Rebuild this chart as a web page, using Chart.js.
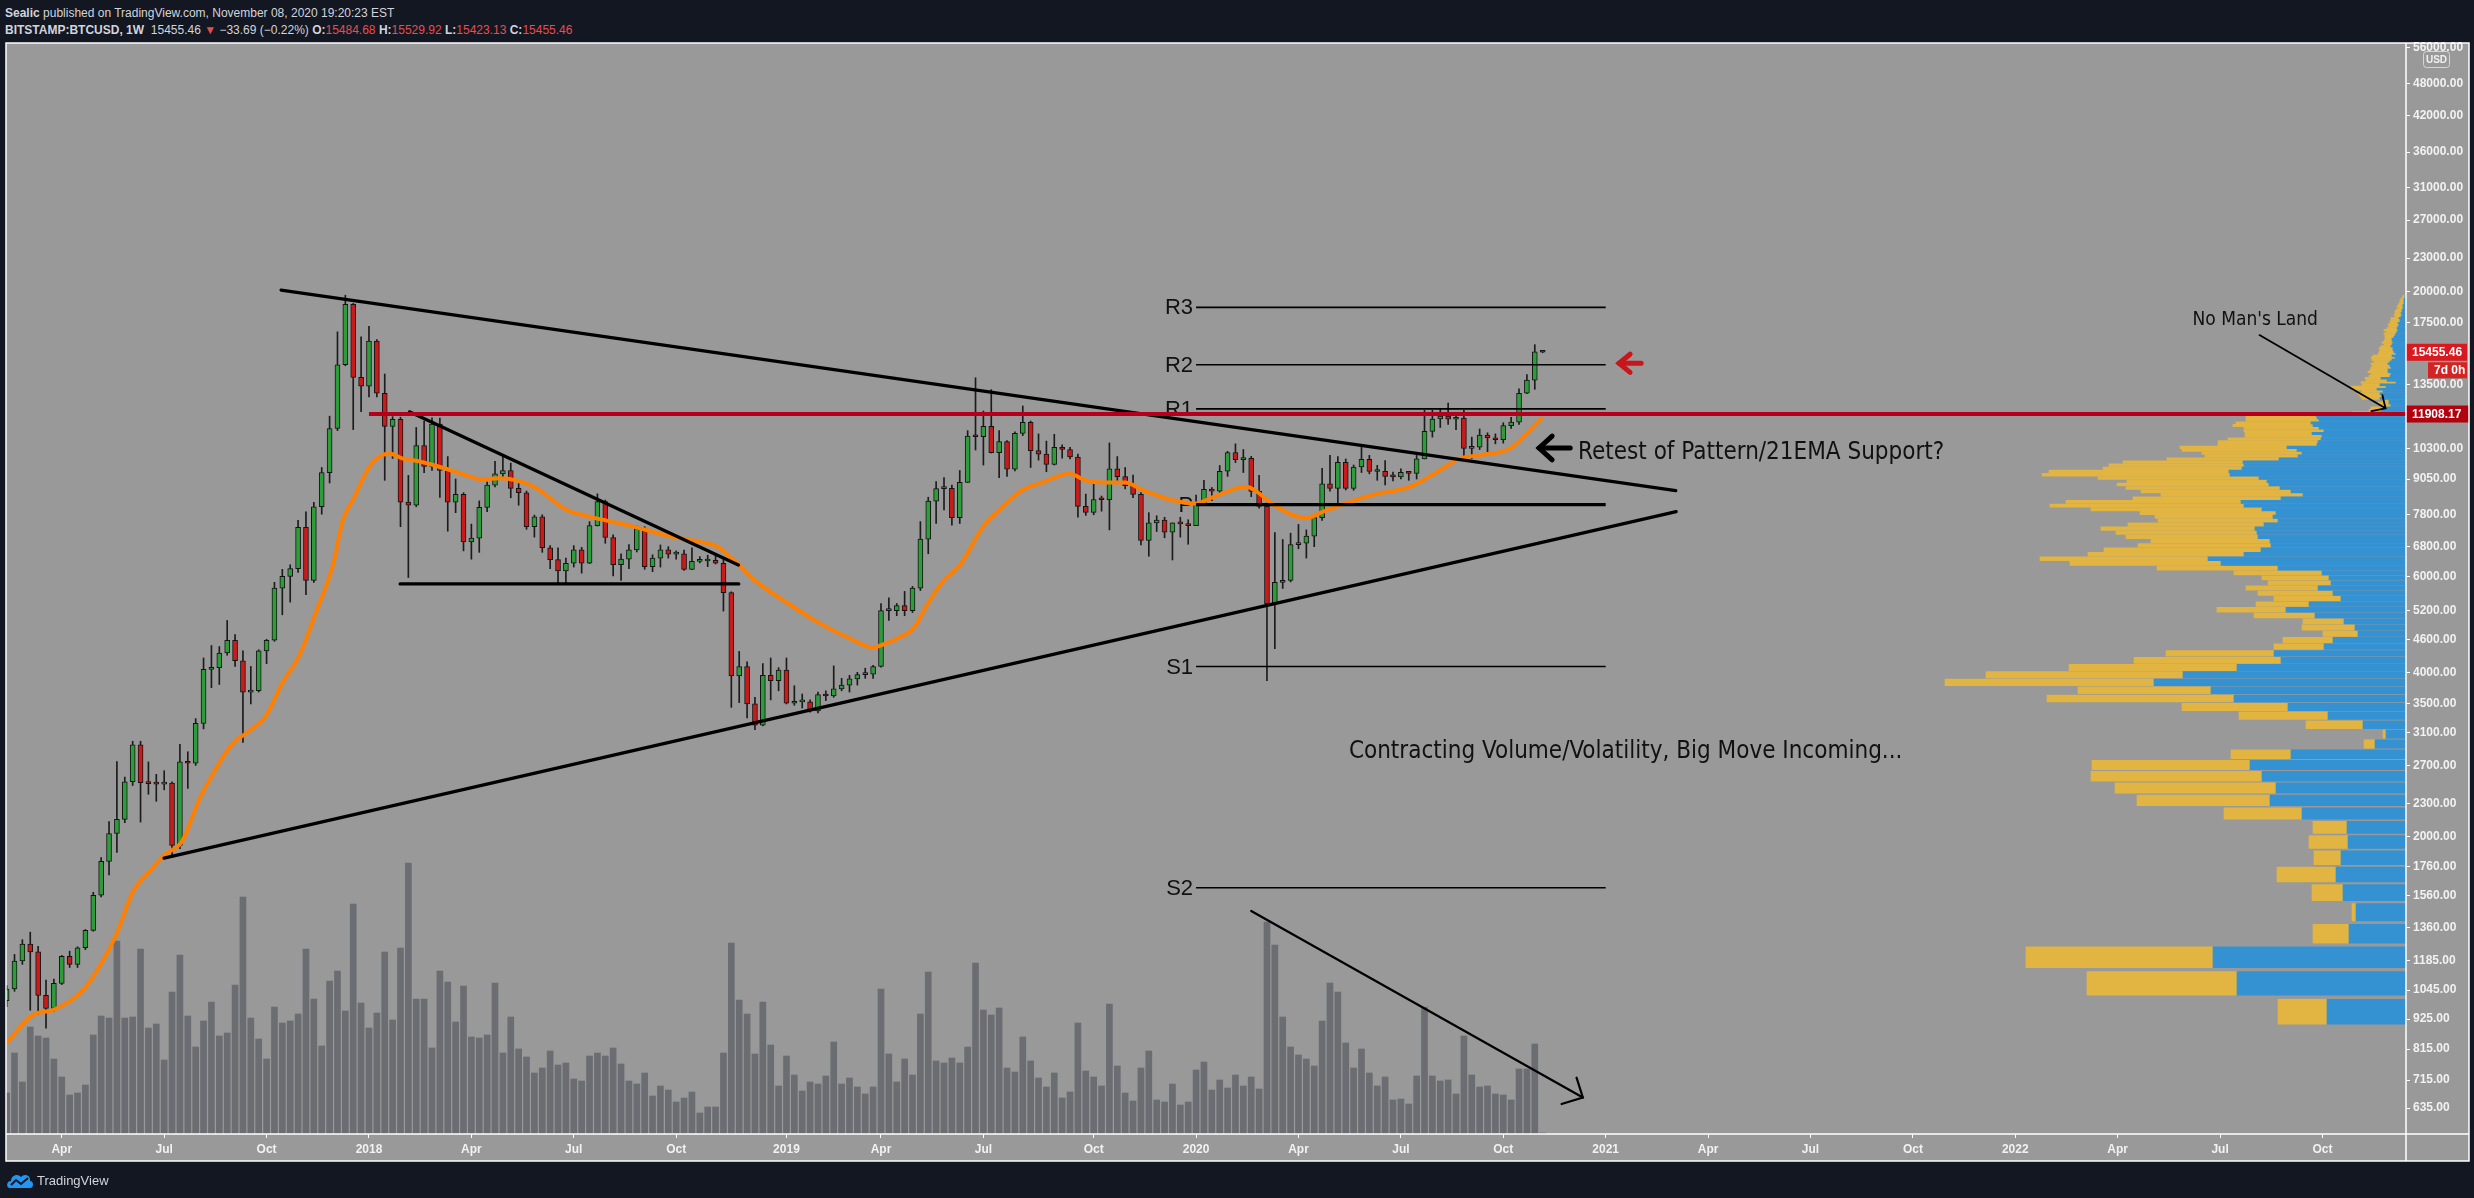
<!DOCTYPE html>
<html>
<head>
<meta charset="utf-8">
<script src="https://cdn.jsdelivr.net/npm/chart.js"></script>
<style>
  body { margin: 0; background: #131722; width: 2474px; height: 1198px; overflow: hidden; position: relative;
         font-family: "Liberation Sans", Arial, sans-serif; color: #d1d4dc; }
  .hdr { position: absolute; left: 5px; font-size: 12px; line-height: 14px; white-space: nowrap; }
  #h1 { top: 6px; }
  #h2 { top: 23px; }
  .red { color: #e84d4d; }
  #frame { position: absolute; left: 6px; top: 43px; width: 2463px; height: 1118px; background: #999999; }
  canvas { position: absolute; left: 0; top: 0; }
  #logo { position: absolute; left: 6px; top: 1170px; height: 20px; display: flex; align-items: center; gap: 3px; font-size: 13px; color: #d1d4dc; }
</style>
</head>
<body>
<div class="hdr" id="h1"><b>Sealic</b> published on TradingView.com, November 08, 2020 19:20:23 EST</div>
<div class="hdr" id="h2"><b>BITSTAMP:BTCUSD, 1W</b>&nbsp; 15455.46 <span class="red">&#9660;</span> &minus;33.69 (&minus;0.22%) <b>O:</b><span class="red">15484.68</span> <b>H:</b><span class="red">15529.92</span> <b>L:</b><span class="red">15423.13</span> <b>C:</b><span class="red">15455.46</span></div>
<div id="frame"></div>
<canvas id="vp"></canvas>
<canvas id="main" width="2474" height="1198"></canvas>
<div id="logo">
  <svg width="28" height="18" viewBox="0 0 28 18"><path d="M4 17 C0 17 0 10 5 10 C5 4 12 2 15 6 C18 2 25 4 24 10 C28 10 28 17 24 17 Z" fill="#2196f3"/><polyline points="5,14 10,9 15,13 22,7" fill="none" stroke="#131722" stroke-width="2"/></svg>
  <span>TradingView</span>
</div>
<script>
// weekly candles, week index counted from Mon 2 Jan 2017 (first candle = week 6, 13 Feb 2017)
const firstBar = 6;
const opens = [
  1000,1050,1182,1270,1228,1022,967,1075,1205,1165,
  1250,1345,1560,1800,2025,2150,2520,2946,2509,2500,
  2495,2505,1925,2740,2725,3225,4050,4080,4340,4580,
  4200,3680,3700,4380,4580,5710,6000,6200,7380,5900,
  8050,9300,11200,14660,18930,13900,13400,16200,13000,11300,
  11650,8210,8100,10420,9540,11410,9380,8210,8480,6940,
  7050,8030,8820,9250,9380,8700,8540,7400,7710,6770,
  6440,6140,6340,6710,6340,7430,8230,7070,6300,6450,
  6710,7340,6250,6480,6710,6590,6600,6180,6390,6400,
  6420,6340,5600,3940,4100,3500,3200,3950,3860,4040,
  3510,3530,3530,3400,3640,3620,3730,3790,3890,3960,
  3970,4100,5190,5190,5300,5190,5710,7020,8240,8690,
  8700,7690,8920,10850,10820,11300,10110,10600,9430,10975,
  11500,10200,10050,9620,10350,10250,9930,8060,7860,8300,
  8290,9450,9140,8800,8480,6980,7520,7610,7230,7520,
  7490,7430,8190,8660,8600,9350,10120,9820,9880,8590,
  8060,5340,5850,5900,6860,6900,7110,7690,8870,8700,
  9710,8700,9520,9830,9340,9350,9150,9130,9310,9270,
  9850,11070,11660,11810,11650,11700,10300,10350,10890,10770,
  10680,11340,11510,13000,13740,15484.68
];
const highs = [
  1065,1215,1293,1335,1258,1090,1095,1210,1232,1255,
  1350,1580,1830,2130,2745,2570,2990,2990,2740,2600,
  2640,2520,2950,2860,3290,4250,4480,4460,4980,4690,
  4380,4100,4400,4600,5850,6180,6300,7600,7880,8200,
  9500,11800,16850,19666,19000,16500,17250,16300,14100,11780,
  11750,9190,11250,11560,11720,11700,9950,9050,8540,7480,
  8250,8930,9750,9990,9680,8880,8600,7770,7780,6830,
  6770,6480,6830,6780,7560,8500,8280,7150,6600,6860,
  7420,7400,6570,6850,6800,6680,6700,6770,6520,6560,
  6560,6470,5620,4370,4180,3600,4150,4250,4080,4250,
  3780,3650,3560,3680,3700,4110,3900,3950,4000,4070,
  4120,5350,5480,5350,5630,5750,7560,8380,8950,9100,
  8820,9380,11100,13880,12060,13200,11100,10650,11050,12320,
  11560,10950,10620,10930,10450,10350,10050,8490,8850,8420,
  10540,9950,9500,9200,8550,7850,7750,7700,7520,7700,
  7620,8460,9000,8730,9580,10170,10500,10250,9960,9190,
  8180,7220,7010,7200,7470,7300,7780,9470,10000,9950,
  9850,9600,10400,10000,9590,9780,9320,9450,9340,10000,
  12100,12100,12150,12470,11800,12090,10800,11180,11000,10950,
  11480,11740,13240,14060,15960,15529.92
];
const lows = [
  975,1040,1165,960,942,890,955,1070,1150,1150,
  1240,1340,1550,1700,1870,2120,2480,2125,2390,2320,
  2435,1830,1900,2450,2700,3150,3750,3800,4300,4100,
  2975,3500,3680,4150,4560,5100,5380,6100,5550,5850,
  7800,8900,11100,14600,11150,12030,12800,12800,9000,9870,
  7400,5970,8050,9300,9380,8370,7260,7850,6680,6450,
  6640,7880,8750,9100,8360,8100,7320,7080,6640,6200,
  5790,5800,6240,6080,6330,7420,6900,6010,5900,6200,
  6650,6180,6120,6240,6480,6450,6150,6170,6350,6250,
  6320,5180,3450,3520,3300,3140,3190,3560,3700,3500,
  3480,3440,3380,3370,3550,3600,3700,3680,3790,3900,
  3900,4090,4980,5080,5080,5150,5650,6600,7500,7940,
  7450,7500,8920,10230,9600,10100,9100,9150,9360,10870,
  9500,9800,9330,9600,9880,9850,7700,7760,7780,7900,
  7300,8990,8680,8360,6850,6530,7250,7060,6430,7080,
  6870,7430,8090,8260,8550,9150,9700,9300,8400,8000,
  3860,4420,5700,5860,6740,6480,6800,7600,8600,8100,
  8640,8630,9300,9250,9000,8830,8980,9050,9000,9050,
  9850,10800,11250,11400,11150,9900,9870,10250,10140,10500,
  10530,11210,11400,12980,13220,15423.13
];
const closes = [
  1050,1182,1270,1228,1022,967,1075,1205,1165,1250,
  1345,1560,1800,2025,2150,2520,2946,2509,2500,2495,
  2505,1925,2740,2725,3225,4050,4080,4340,4580,4200,
  3680,3700,4380,4580,5710,6000,6200,7380,5900,8050,
  9300,11200,14660,18930,13900,13400,16200,13000,11300,11650,
  8210,8100,10420,9540,11410,9380,8210,8480,6940,7050,
  8030,8820,9250,9380,8700,8540,7400,7710,6770,6440,
  6140,6340,6710,6340,7430,8230,7070,6300,6450,6710,
  7340,6250,6480,6710,6590,6600,6180,6390,6400,6420,
  6340,5600,3940,4100,3500,3200,3950,3860,4040,3510,
  3530,3530,3400,3640,3620,3730,3790,3890,3960,3970,
  4100,5190,5190,5300,5190,5710,7020,8240,8690,8700,
  7690,8920,10850,10820,11300,10110,10600,9430,10975,11500,
  10200,10050,9620,10350,10250,9930,8060,7860,8300,8290,
  9450,9140,8800,8480,6980,7520,7610,7230,7520,7490,
  7430,8190,8660,8600,9350,10120,9820,9880,8590,8060,
  5340,5850,5900,6860,6900,7110,7690,8870,8700,9710,
  8700,9520,9830,9340,9350,9150,9130,9310,9270,9850,
  11070,11660,11810,11650,11700,10300,10350,10890,10770,10680,
  11340,11510,13000,13740,15484.68,15455.46
];
// weekly volume, thousand BTC
const volumes = [
  41,81,52,107,98,96,75,57,39,41,
  49,99,118,116,193,116,117,185,106,110,
  74,142,179,118,87,113,132,98,101,149,
  237,116,95,75,127,111,113,120,185,135,
  88,153,163,123,230,131,106,121,182,114,
  186,271,135,135,86,163,152,112,148,97,
  96,99,151,81,117,85,77,61,66,83,
  69,71,55,53,78,81,78,86,70,53,
  50,61,38,48,44,32,36,42,21,27,
  27,81,191,134,120,80,132,89,48,78,
  59,43,52,50,58,92,50,56,47,40,
  47,145,80,52,75,59,120,162,73,71,
  76,71,87,171,124,119,126,66,62,97,
  73,56,47,61,36,42,111,63,57,48,
  130,68,41,33,66,83,34,32,50,29,
  32,64,72,44,54,46,59,48,57,45,
  212,189,117,87,79,75,68,113,151,142,
  91,66,85,61,48,57,34,35,30,58,
  127,58,53,54,40,98,59,47,48,40,
  39,34,65,65,90,1
];
// 21 EMA (week index, price)
const emaBars = [5.9,9.4,12,15.8,18,20,22,24.1,26.2,28.3,30.4,32.5,34.6,36.7,38.9,41,43.2,45.3,47.4,48.7,50,51.7,53,54.6,56.3,58.4,61,64.4,66.1,68.6,72.9,77.1,79.6,81.3,85.6,89.8,94,96.2,98.3,101.2,104.6,108.9,113.1,116,117.3,119.4,121.1,122.8,124.9,127,130,132.1,134.8,137.5,140.9,143,145,148,150.2,153.9,157,159.3,163.4,164.7,167,171.1,172.9,175.6,179.7,184.2,187.9,190.6,193.3,196.9,199.2,201];
const emaVals = [832,942,962,1049,1168,1330,1580,1723,1857,1962,2328,2651,2951,3115,3323,3822,4304,5169,6273,7618,8304,9344,9865,10080,9865,9750,9520,9190,9040,9075,8761,7938,7745,7640,7400,7125,6940,6805,6420,5860,5420,4950,4610,4440,4500,4640,4810,5300,5880,6280,7410,7950,8610,8920,9250,8995,8920,8920,8640,8280,8160,8400,8760,8580,8080,7670,7860,8130,8480,8760,9380,9880,10020,10300,11050,11740];

// axes
const tickBars = [13,26,39,52,65,78,91,105,117,130,144,157,170,183,196,209,222,235,248,261,274,287,300];
const tickLabels = ['Apr','Jul','Oct','2018','Apr','Jul','Oct','2019','Apr','Jul','Oct','2020','Apr','Jul','Oct','2021','Apr','Jul','Oct','2022','Apr','Jul','Oct'];
const priceTicks = [56000,48000,42000,36000,31000,27000,23000,20000,17500,13500,10300,9050,7800,6800,6000,5200,4600,4000,3500,3100,2700,2300,2000,1760,1560,1360,1185,1045,925,815,715,635];
const xMin = 5.92, xMax = 310.6;
const priceMin = 569.2, priceMax = 57063;
const volumeMax = 1091;

// yearly pivots
const pivotNames = ['R3','R2','R1','P','S1','S2'];
const pivotLevels = [18680,14660,12170,8120,4100,1610];
const pivotFrom = 157, pivotTo = 209;
const supportLevel = 11908.17;
const supportFrom = 52;

// visible-range volume profile: 150 rows from 891, 125.2 per row (thousand BTC, blue = up, yellow = down)
const vpLow = 891, vpStep = 125.2;
const vpUp = [
  79,169,193,57,50,63,70,65,58,59, 104,136,130,144,156,115,31,20,43,78,
  118,172,195,252,223,169,125,132,82,73, 48,51,62,91,120,97,65,73,88,75,
  77,84,128,185,198,162,145,135,136,148, 149,151,142,128,133,130,144,162,165,125,
  103,115,126,137,139,147,176,177,164,162, 163,127,108,104,109,119,89,88,85,84,
  94,82,87,93,95,87,89,90,33,25, 20,15,17,17,26,24,26,23,29,20,
  26,10,19,25,16,15,18,18,15,16, 18,16,14,11,14,10,12,13,13,15,
  14,13,14,14,12,11,10,9,8,9, 8,7,8,6,6,7,5,4,5,4,
  4,3,3,3,2,2,2,2,1,1
];
const vpDown = [
  49,150,187,36,4,31,59,27,39,34, 78,133,161,171,158,60,11,3,57,89,
  106,187,133,209,197,168,147,108,50,50, 35,53,41,61,69,53,67,75,72,63,
  67,88,121,151,168,156,157,133,119,132, 141,154,136,120,118,136,171,194,175,148,
  142,150,154,152,140,161,188,180,139,135, 120,112,93,100,115,107,99,100,93,77,
  67,80,75,80,75,73,71,70,21,12, 15,9,11,6,18,22,22,21,25,35,
  18,35,21,16,21,20,20,18,20,18, 17,16,20,24,19,18,15,13,14,10,
  8,11,8,7,9,10,12,11,14,10, 9,11,8,10,9,8,6,8,6,7,
  6,5,6,5,5,4,4,3,3,2
];
const vpFullScale = 2400;

// drawings (week index, price)
const drawings = [
  { pts: [[40.84,20100],[217.9,8614]], w: 3.2, c: '#000' },
  { pts: [[25.98,1825],[217.95,7886]], w: 3.2, c: '#000' },
  { pts: [[57.13,12020],[98.9,6292]], w: 3.2, c: '#000' },
  { pts: [[55.95,5810],[98.95,5810]], w: 3.2, c: '#000' },
  { pts: [[164.0,1460],[206.1,664]], w: 2.2, c: '#000' },
  { pts: [[205.3,722],[206.1,664],[203.4,646]], w: 2.2, c: '#000' },
  { pts: [[292.0,16620],[308.0,12200]], w: 1.8, c: '#000' },
  { pts: [[307.6,12900],[308.0,12200],[306.2,12060]], w: 1.8, c: '#000' },
  { pts: [[204.5,10315],[200.55,10315]], w: 5, c: '#000' },
  { pts: [[202.2,10850],[200.55,10315],[202.2,9810]], w: 5, c: '#000' },
  { pts: [[213.5,14750],[210.7,14750]], w: 5, c: '#c8161d' },
  { pts: [[212.1,15330],[210.7,14750],[212.1,14200]], w: 5, c: '#c8161d' }
];
const notes = [
  { text: 'Contracting Volume/Volatility, Big Move Incoming...', bar: 176.4, price: 2857, size: 24 },
  { text: 'Retest of Pattern/21EMA Support?', bar: 205.5, price: 10100, size: 24 },
  { text: "No Man's Land", bar: 283.5, price: 17710, size: 19 }
];

const noteFont = '"Liberation Sans Narrow", "DejaVu Sans Condensed", "Liberation Sans", sans-serif';
const axisFont = { family: '"Liberation Sans", Arial, sans-serif', size: 12, weight: 'bold' };
const GREEN = '#2c9d3a', RED = '#cc1a1a';

const bars = closes.map((c, i) => firstBar + i);

const datasets = [
  {
    type: 'bar', label: 'volume', yAxisID: 'yv', order: 10,
    data: volumes.map((v, i) => ({ x: bars[i], y: v })),
    backgroundColor: '#6c6d72', barThickness: 6
  },
  {
    type: 'bar', label: 'wicks', yAxisID: 'y', order: 6,
    data: lows.map((l, i) => ({ x: bars[i], y: [l, highs[i]] })),
    backgroundColor: '#1c1c1c', barThickness: 1
  },
  {
    type: 'bar', label: 'bodies', yAxisID: 'y', order: 5,
    data: opens.map((o, i) => ({ x: bars[i], y: [o, closes[i]] })),
    backgroundColor: closes.map((c, i) => c >= opens[i] ? GREEN : RED),
    borderColor: '#141414', borderWidth: 1, barThickness: 5, minBarLength: 2
  },
  {
    type: 'line', label: 'EMA 21', yAxisID: 'y', order: 3,
    data: emaBars.map((b, i) => ({ x: b, y: emaVals[i] })),
    borderColor: '#ff8000', borderWidth: 4, pointRadius: 0, cubicInterpolationMode: 'monotone'
  }
];
pivotLevels.forEach((lvl, i) => {
  datasets.push({
    type: 'line', yAxisID: 'y', order: 2,
    data: [{ x: pivotFrom, y: lvl }, { x: pivotTo, y: lvl }],
    borderColor: '#000', borderWidth: pivotNames[i] === 'P' ? 3.2 : 1.6, pointRadius: 0
  });
});
drawings.forEach(d => {
  datasets.push({
    type: 'line', yAxisID: 'y', order: 1,
    data: d.pts.map(p => ({ x: p[0], y: p[1] })),
    borderColor: d.c, borderWidth: d.w, pointRadius: 0, borderCapStyle: 'round', borderJoinStyle: 'miter'
  });
});
datasets.push({
  type: 'line', yAxisID: 'y', order: 0,
  data: [{ x: supportFrom, y: supportLevel }, { x: xMax, y: supportLevel }],
  borderColor: '#b4001a', borderWidth: 4, pointRadius: 0
});

// text notes + pivot labels, drawn under the lines
const notesPlugin = {
  id: 'notes',
  beforeDatasetsDraw(chart) {
    const { ctx, scales: { x, y } } = chart;
    ctx.save();
    ctx.fillStyle = '#111';
    ctx.textBaseline = 'middle';
    ctx.textAlign = 'left';
    notes.forEach(n => {
      ctx.font = n.size + 'px ' + noteFont;
      ctx.fillText(n.text, x.getPixelForValue(n.bar), y.getPixelForValue(n.price));
    });
    ctx.textAlign = 'right';
    ctx.font = '22px "Liberation Sans", Arial, sans-serif';
    pivotNames.forEach((name, i) => {
      ctx.fillText(name, x.getPixelForValue(pivotFrom) - 3, y.getPixelForValue(pivotLevels[i]) + 1);
    });
    ctx.restore();
  }
};

// frame, price tags
const framePlugin = {
  id: 'frame',
  afterDraw(chart) {
    const { ctx, chartArea: a, scales: { x, y } } = chart;
    const right = a.right + y.width;
    const bottom = a.bottom + x.height;
    ctx.save();
    const tag = (price, text, color, x0, x1, dy, h) => {
      const py = y.getPixelForValue(price) + dy;
      ctx.fillStyle = color;
      ctx.fillRect(x0, py - h / 2, x1 - x0, h);
      ctx.fillStyle = '#ffffff';
      ctx.font = 'bold 12px "Liberation Sans", Arial, sans-serif';
      ctx.textBaseline = 'middle';
      ctx.textAlign = 'left';
      ctx.fillText(text, x0 + 6, py + 0.5);
    };
    const last = closes[closes.length - 1];
    tag(last, last.toFixed(2), '#d9191f', a.right, right - 2, 0, 17);
    tag(last, '7d 0h', '#d32323', a.right + 22, right - 2, 18, 16);
    tag(supportLevel, supportLevel.toFixed(2), '#b3000f', a.right, right, 0, 17);

    // currency badge
    ctx.strokeStyle = '#d6d6d6';
    ctx.lineWidth = 1;
    ctx.beginPath();
    ctx.roundRect(a.right + 17.5, a.top + 8.5, 26, 16, 3);
    ctx.stroke();
    ctx.fillStyle = '#f0f0f0';
    ctx.font = 'bold 10px "Liberation Sans", Arial, sans-serif';
    ctx.textAlign = 'center';
    ctx.textBaseline = 'middle';
    ctx.fillText('USD', a.right + 30.5, a.top + 17);

    ctx.strokeStyle = '#ffffff';
    ctx.lineWidth = 1.5;
    ctx.strokeRect(a.left, a.top, right - a.left, bottom - a.top);
    ctx.beginPath();
    ctx.moveTo(a.right, a.top); ctx.lineTo(a.right, bottom);
    ctx.moveTo(a.left, a.bottom); ctx.lineTo(right, a.bottom);
    ctx.stroke();
    ctx.restore();
  }
};

const main = new Chart(document.getElementById('main'), {
  type: 'bar',
  data: { datasets },
  options: {
    responsive: false,
    animation: false,
    devicePixelRatio: 1,
    layout: { padding: { left: 6, top: 43, right: 5, bottom: 37 } },
    plugins: { legend: { display: false }, tooltip: { enabled: false } },
    datasets: { bar: { grouped: false, borderSkipped: false } },
    scales: {
      x: {
        type: 'linear', position: 'bottom', min: xMin, max: xMax, bounds: 'data', offset: false,
        afterBuildTicks: s => { s.ticks = tickBars.map(v => ({ value: v })); },
        afterFit: s => { s.height = 27; },
        ticks: { autoSkip: false, maxRotation: 0, color: '#f2f2f2', font: axisFont, padding: 4,
                 callback: v => tickLabels[tickBars.indexOf(v)] },
        grid: { drawOnChartArea: false, drawTicks: true, tickLength: 4, color: '#ffffff', offset: false },
        border: { display: false }
      },
      y: {
        type: 'logarithmic', position: 'right', min: priceMin, max: priceMax, bounds: 'data', beginAtZero: false,
        afterBuildTicks: s => { s.ticks = priceTicks.map(v => ({ value: v })); },
        afterFit: s => { s.width = 63; },
        ticks: { autoSkip: false, color: '#f2f2f2', font: axisFont, padding: 3,
                 callback: v => Number(v).toFixed(2) },
        grid: { drawOnChartArea: false, drawTicks: true, tickLength: 4, color: '#ffffff' },
        border: { display: false }
      },
      yv: { type: 'linear', display: false, min: 0, max: volumeMax }
    }
  },
  plugins: [notesPlugin, framePlugin]
});

// volume profile pane, laid under the main canvas on the same price scale
const area = main.chartArea;
const vpCanvas = document.getElementById('vp');
vpCanvas.width = area.right - area.left;
vpCanvas.height = area.bottom - area.top;
vpCanvas.style.left = area.left + 'px';
vpCanvas.style.top = area.top + 'px';
const rowPrices = vpUp.map((v, k) => vpLow + vpStep * (k + 0.5));
new Chart(vpCanvas, {
  type: 'bar',
  data: {
    datasets: [
      { label: 'up', stack: 'vp', data: vpUp.map((v, k) => ({ y: rowPrices[k], x: v })), backgroundColor: '#3592d2' },
      { label: 'down', stack: 'vp', data: vpDown.map((v, k) => ({ y: rowPrices[k], x: v })), backgroundColor: '#e2b441' }
    ]
  },
  options: {
    indexAxis: 'y',
    responsive: false,
    animation: false,
    devicePixelRatio: 1,
    layout: { padding: 0 },
    plugins: { legend: { display: false }, tooltip: { enabled: false } },
    datasets: { bar: { barThickness: 'flex', categoryPercentage: 1, barPercentage: 0.85, borderWidth: 0 } },
    scales: {
      x: { type: 'linear', reverse: true, min: 0, max: vpFullScale, display: false },
      y: { type: 'logarithmic', min: priceMin, max: priceMax, bounds: 'data', offset: false, display: false }
    }
  }
});
</script>
</body>
</html>
